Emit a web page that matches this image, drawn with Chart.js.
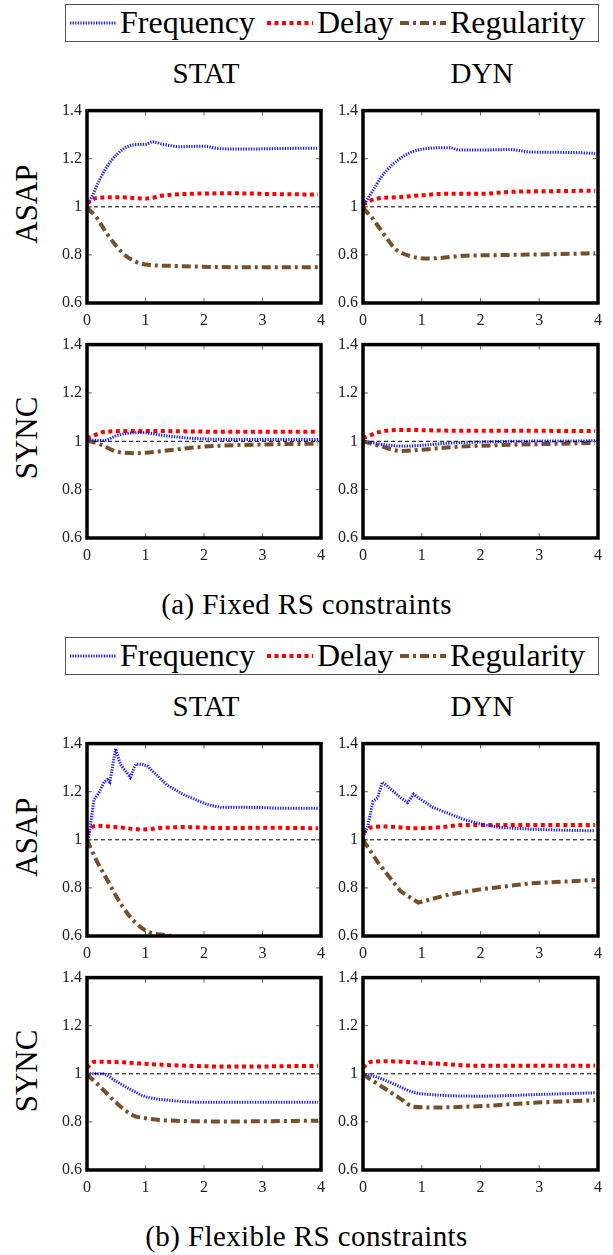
<!DOCTYPE html>
<html>
<head>
<meta charset="utf-8">
<script src="https://cdn.jsdelivr.net/npm/chart.js@4.4.0/dist/chart.umd.min.js"></script>
<style>
  body { margin: 0; width: 613px; height: 1255px; background: #fff; position: relative; overflow: hidden; font-family: 'Liberation Serif', 'DejaVu Serif', serif; color: #000; }
  .abs { position: absolute; }
  .title { font-size: 29px; text-align: center; width: 200px; line-height: 30px; }
  .row { font-size: 31px; width: 120px; text-align: center; line-height: 32px; transform: rotate(-90deg); }
  .caption { font-size: 29px; letter-spacing: 0.4px; width: 613px; left: 0; text-align: center; line-height: 30px; }
  .legend { border: 1.5px solid #555; box-sizing: border-box; }
  .legtext { font-size: 32px; line-height: 34px; white-space: nowrap; }
</style>
</head>
<body>
<script>
// shared axis ticks and series names
const xTicks = [0, 1, 2, 3, 4];
const yTicks = [0.6, 0.8, 1, 1.2, 1.4];
const seriesNames = ['Frequency', 'Delay', 'Regularity'];
const refLine = [[0, 1], [4, 1]];

// (a) fixed RS constraints
const fixStatAsapFreq = [[0,1.005],[0.1,1.05],[0.2,1.105],[0.35,1.17],[0.5,1.215],[0.65,1.245],[0.8,1.258],[1.0,1.26],[1.12,1.27],[1.3,1.26],[1.6,1.25],[2.0,1.252],[2.25,1.242],[2.7,1.24],[3.2,1.242],[3.95,1.244]];
const fixStatAsapDelay = [[0,1.013],[0.15,1.036],[0.5,1.04],[0.8,1.037],[1.0,1.034],[1.3,1.047],[1.9,1.055],[2.5,1.056],[3.2,1.053],[3.95,1.051]];
const fixStatAsapReg = [[0,0.995],[0.15,0.96],[0.35,0.885],[0.6,0.81],[0.8,0.775],[1.0,0.76],[1.5,0.754],[2.5,0.749],[3.95,0.749]];

const fixDynAsapFreq = [[0,1.003],[0.15,1.06],[0.3,1.12],[0.5,1.175],[0.8,1.225],[1.08,1.242],[1.47,1.246],[1.65,1.236],[2.0,1.236],[2.5,1.238],[2.85,1.228],[3.5,1.226],[3.95,1.222]];
const fixDynAsapDelay = [[0,1.01],[0.2,1.032],[0.6,1.04],[1.0,1.048],[1.4,1.054],[2.0,1.054],[2.5,1.062],[3.2,1.065],[3.95,1.067]];
const fixDynAsapReg = [[0,0.997],[0.15,0.955],[0.3,0.905],[0.55,0.825],[0.8,0.795],[1.1,0.785],[1.3,0.787],[1.7,0.796],[2.3,0.799],[3.2,0.803],[3.95,0.807]];

const fixStatSyncFreq = [[0,1.006],[0.27,1.003],[0.55,1.027],[0.94,1.036],[1.34,1.023],[1.9,1.011],[3.0,1.007],[3.95,1.007]];
const fixStatSyncDelay = [[0,1.013],[0.33,1.04],[1.0,1.043],[2.0,1.04],[3.95,1.039]];
const fixStatSyncReg = [[0,1.003],[0.2,0.99],[0.5,0.958],[0.85,0.951],[1.3,0.96],[2.0,0.978],[3.0,0.987],[3.95,0.99]];

const fixDynSyncFreq = [[0,1.003],[0.3,0.988],[0.7,0.98],[1.5,0.993],[2.3,0.999],[3.95,1.002]];
const fixDynSyncDelay = [[0,1.013],[0.3,1.04],[0.64,1.047],[1.5,1.044],[3.95,1.043]];
const fixDynSyncReg = [[0,1.0],[0.3,0.98],[0.64,0.96],[1.0,0.965],[1.5,0.976],[2.3,0.984],[3.95,0.993]];

// (b) flexible RS constraints
const flexStatAsapFreq = [[0,1.0],[0.03,1.012],[0.12,1.167],[0.2,1.194],[0.29,1.24],[0.35,1.25],[0.39,1.24],[0.49,1.379],[0.57,1.314],[0.74,1.26],[0.83,1.314],[0.94,1.314],[1.03,1.307],[1.37,1.227],[1.66,1.187],[2.05,1.147],[2.28,1.135],[2.74,1.135],[3.0,1.134],[3.3,1.131],[3.95,1.131]];
const flexStatAsapDelay = [[0,1.025],[0.1,1.055],[0.2,1.058],[0.5,1.053],[0.77,1.046],[0.95,1.043],[1.3,1.05],[1.66,1.053],[2.3,1.049],[3.0,1.05],[3.95,1.048]];
const flexStatAsapReg = [[0,1.0],[0.15,0.92],[0.33,0.84],[0.6,0.725],[0.83,0.655],[1.05,0.617],[1.34,0.604],[1.5,0.598],[2.0,0.585],[3.0,0.57],[4.0,0.565]];

const flexDynAsapFreq = [[0,1.012],[0.08,1.055],[0.17,1.16],[0.25,1.175],[0.33,1.24],[0.42,1.222],[0.64,1.175],[0.76,1.155],[0.86,1.19],[0.97,1.17],[1.19,1.135],[1.47,1.108],[1.75,1.082],[2.03,1.064],[2.3,1.052],[2.86,1.044],[3.4,1.04],[3.95,1.037]];
const flexDynAsapDelay = [[0,1.028],[0.11,1.05],[0.36,1.055],[0.92,1.048],[1.3,1.052],[1.75,1.062],[3.95,1.062]];
const flexDynAsapReg = [[0,1.0],[0.25,0.907],[0.64,0.786],[0.94,0.739],[1.47,0.773],[2.03,0.795],[2.86,0.819],[3.95,0.833]];

const flexStatSyncFreq = [[0,1.0],[0.27,1.0],[0.49,0.97],[0.78,0.93],[1.0,0.905],[1.45,0.889],[1.9,0.882],[3.95,0.882]];
const flexStatSyncDelay = [[0,1.024],[0.13,1.05],[0.49,1.049],[1.34,1.037],[2.46,1.03],[3.95,1.033]];
const flexStatSyncReg = [[0,0.997],[0.21,0.95],[0.49,0.882],[0.78,0.828],[1.0,0.815],[1.62,0.804],[2.46,0.802],[3.95,0.805]];

const flexDynSyncFreq = [[0,1.0],[0.19,0.99],[0.53,0.957],[0.86,0.923],[1.19,0.913],[2.03,0.907],[2.86,0.913],[3.95,0.921]];
const flexDynSyncDelay = [[0,1.026],[0.14,1.05],[0.36,1.052],[1.19,1.043],[2.03,1.033],[3.95,1.034]];
const flexDynSyncReg = [[0,0.997],[0.3,0.95],[0.64,0.896],[0.86,0.863],[1.19,0.86],[2.03,0.866],[2.86,0.879],[3.95,0.89]];

const FONT = "'Liberation Serif', 'DejaVu Serif', serif";
const styles = [
  { color: '#1a1aff', dash: [1.3, 1.3], width: 3 },
  { color: '#ff0000', dash: [4, 3.5], width: 4 },
  { color: '#76502a', dash: [9, 4, 3, 4], width: 4 }
];

// frame + inward tick marks, like pgfplots
const framePlugin = {
  id: 'frame',
  afterDraw(chart) {
    const { ctx, chartArea: a, scales } = chart;
    ctx.save();
    ctx.strokeStyle = '#666';
    ctx.lineWidth = 1;
    ctx.beginPath();
    xTicks.forEach(v => {
      const px = scales.x.getPixelForValue(v);
      ctx.moveTo(px, a.bottom); ctx.lineTo(px, a.bottom - 5);
      ctx.moveTo(px, a.top); ctx.lineTo(px, a.top + 5);
    });
    yTicks.forEach(v => {
      const py = scales.y.getPixelForValue(v);
      ctx.moveTo(a.left, py); ctx.lineTo(a.left + 5, py);
      ctx.moveTo(a.right, py); ctx.lineTo(a.right - 5, py);
    });
    ctx.stroke();
    ctx.strokeStyle = '#000';
    ctx.lineWidth = 3.5;
    ctx.strokeRect(a.left, a.top, a.right - a.left, a.bottom - a.top);
    ctx.restore();
  }
};

function toPoints(arr) { return arr.map(p => ({ x: p[0], y: p[1] })); }

function makePanel(left, top, right, bottom, series, jagged) {
  const padL = 42, padT = 8, padR = 8, padB = 30;
  const c = document.createElement('canvas');
  const w = right - left + padL + padR, h = bottom - top + padT + padB;
  c.width = w; c.height = h;
  c.className = 'abs';
  c.style.left = (left - padL) + 'px';
  c.style.top = (top - padT) + 'px';
  c.style.width = w + 'px'; c.style.height = h + 'px';
  document.body.appendChild(c);

  const datasets = series.map((s, i) => ({
    label: seriesNames[i],
    data: toPoints(s),
    borderColor: styles[i].color,
    borderDash: styles[i].dash,
    borderWidth: styles[i].width,
    borderCapStyle: 'butt',
    pointRadius: 0,
    tension: jagged[i] ? 0 : 0.35,
    cubicInterpolationMode: jagged[i] ? 'default' : 'monotone',
    clip: 0
  }));
  datasets.unshift({
    label: 'ref',
    data: toPoints(refLine),
    borderColor: '#000',
    borderWidth: 1,
    borderDash: [4, 3],
    pointRadius: 0,
    clip: 0
  });

  new Chart(c, {
    type: 'line',
    data: { datasets },
    options: {
      responsive: false,
      animation: false,
      events: [],
      layout: { padding: { left: 0, top: padT, right: padR, bottom: 0 } },
      plugins: { legend: { display: false }, tooltip: { enabled: false } },
      scales: {
        x: {
          type: 'linear', min: 0, max: 4,
          grid: { display: false, drawTicks: false },
          border: { display: false },
          afterBuildTicks: s => { s.ticks = xTicks.map(v => ({ value: v })); },
          afterFit: s => { s.height = padB; },
          ticks: { color: '#222', padding: 8, maxRotation: 0, font: { family: FONT, size: 16 }, callback: v => String(v) }
        },
        y: {
          type: 'linear', min: 0.6, max: 1.4,
          grid: { display: false, drawTicks: false },
          border: { display: false },
          afterBuildTicks: s => { s.ticks = yTicks.map(v => ({ value: v })); },
          afterFit: s => { s.width = padL; },
          ticks: { color: '#222', padding: 5, font: { family: FONT, size: 16 }, callback: v => String(Number(v.toFixed(1))) }
        }
      }
    },
    plugins: [framePlugin]
  });
}

function addText(cls, text, left, top, extra) {
  const d = document.createElement('div');
  d.className = 'abs ' + cls;
  d.textContent = text;
  d.style.left = left + 'px';
  d.style.top = top + 'px';
  if (extra) Object.assign(d.style, extra);
  document.body.appendChild(d);
  return d;
}

function drawSample(left, top, i) {
  const c = document.createElement('canvas');
  c.width = 46; c.height = 8;
  c.className = 'abs';
  c.style.left = left + 'px'; c.style.top = top + 'px';
  document.body.appendChild(c);
  const ctx = c.getContext('2d');
  ctx.strokeStyle = styles[i].color;
  ctx.lineWidth = styles[i].width;
  ctx.setLineDash(styles[i].dash);
  ctx.beginPath(); ctx.moveTo(0, 4); ctx.lineTo(46, 4); ctx.stroke();
}

function makeLegend(top) {
  const box = document.createElement('div');
  box.className = 'abs legend';
  Object.assign(box.style, { left: '65px', top: top + 'px', width: '534px', height: '38px' });
  document.body.appendChild(box);
  drawSample(70, top + 15, 0);
  addText('legtext', seriesNames[0], 120, top + 1);
  drawSample(267, top + 15, 1);
  addText('legtext', seriesNames[1], 317, top + 1);
  drawSample(400, top + 15, 2);
  addText('legtext', seriesNames[2], 450, top + 1);
}

const cols = [[87, 325], [363, 602]];

function makeFigure(offset, sets, jag, caption) {
  const asapT = 104 + offset, asapB = 303 + offset;
  const syncT = 338 + offset, syncB = 538 + offset + (offset ? -1 : 0);
  makeLegend(4 + offset);
  addText('title', 'STAT', 106, 58 + offset);
  addText('title', 'DYN', 382, 58 + offset);
  addText('row', 'ASAP', -33, (asapT + asapB) / 2 - 16);
  addText('row', 'SYNC', -33, (syncT + syncB) / 2 - 16);
  makePanel(cols[0][0], asapT, cols[0][1], asapB, sets[0], jag[0]);
  makePanel(cols[1][0], asapT, cols[1][1], asapB, sets[1], jag[1]);
  makePanel(cols[0][0], syncT, cols[0][1], syncB, sets[2], jag[2]);
  makePanel(cols[1][0], syncT, cols[1][1], syncB, sets[3], jag[3]);
  addText('caption', caption, 0, syncB + 51);
}

const smooth = [false, false, false];
makeFigure(0, [
  [fixStatAsapFreq, fixStatAsapDelay, fixStatAsapReg],
  [fixDynAsapFreq, fixDynAsapDelay, fixDynAsapReg],
  [fixStatSyncFreq, fixStatSyncDelay, fixStatSyncReg],
  [fixDynSyncFreq, fixDynSyncDelay, fixDynSyncReg]
], [smooth, smooth, smooth, smooth], '(a) Fixed RS constraints');

makeFigure(633, [
  [flexStatAsapFreq, flexStatAsapDelay, flexStatAsapReg],
  [flexDynAsapFreq, flexDynAsapDelay, flexDynAsapReg],
  [flexStatSyncFreq, flexStatSyncDelay, flexStatSyncReg],
  [flexDynSyncFreq, flexDynSyncDelay, flexDynSyncReg]
], [[true, false, false], [true, false, true], smooth, smooth], '(b) Flexible RS constraints');
</script>
</body>
</html>
